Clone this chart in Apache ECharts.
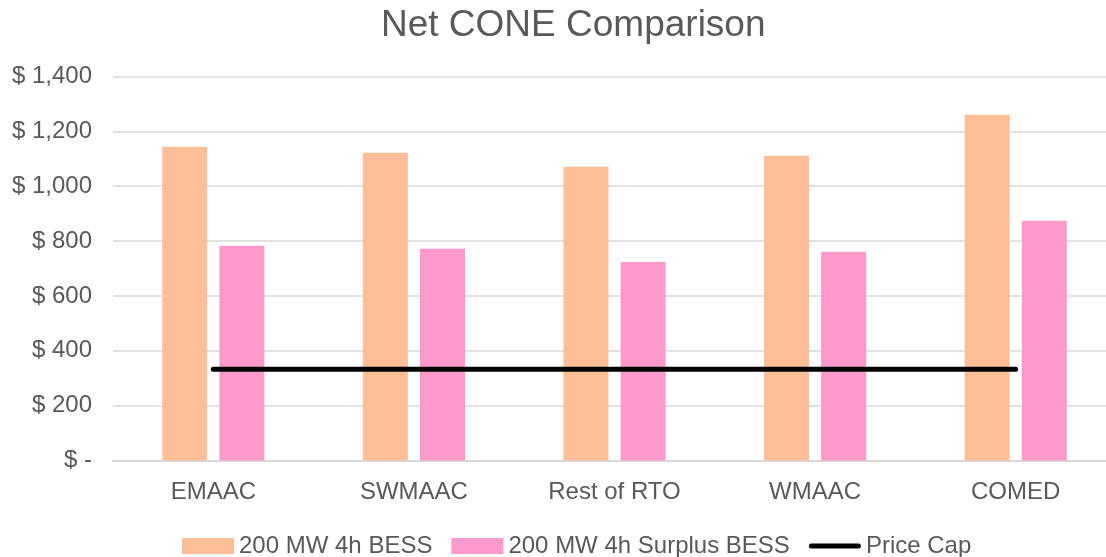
<!DOCTYPE html>
<html>
<head>
<meta charset="utf-8">
<script src="https://cdn.jsdelivr.net/npm/echarts@6/dist/echarts.min.js"></script>
<style>
  html, body { margin: 0; padding: 0; background: #fff; }
  #chart { width: 1106px; height: 557px; }
</style>
</head>
<body>
<div id="chart"></div>
<script>
// categories
var regions = ['EMAAC', 'SWMAAC', 'Rest of RTO', 'WMAAC', 'COMED'];
// series values ($)
var bessValues = [1144, 1122, 1071, 1111, 1261];
var surplusValues = [783, 772, 724, 761, 874];
var priceCap = [333, 333, 333, 333, 333];
// y ticks
var yTicks = [0, 200, 400, 600, 800, 1000, 1200, 1400];

var textColor = '#595959';
var fontFam = '"Liberation Sans", Arial, sans-serif';

function money(v) {
    if (v === 0) return '$ -';
    return '$ ' + v.toLocaleString('en-US');
}

var chart = echarts.init(document.getElementById('chart'));
chart.setOption({
    animation: false,
    color: ['#fdbe98', '#fe99cb', '#000000'],
    title: {
        text: 'Net CONE Comparison',
        left: 376,
        top: 2,
        textStyle: { color: textColor, fontSize: 37, fontWeight: 'normal', fontFamily: fontFam }
    },
    // plot runs past the right edge of the picture (cropped original)
    grid: {
        left: 113, width: 1003, top: 76.5, bottom: 96.5,
        containLabel: false, outerBoundsMode: 'none'
    },
    legend: {
        left: 177,
        top: 529,
        itemWidth: 52,
        itemHeight: 16,
        itemGap: 19,
        textStyle: { color: textColor, fontSize: 24, fontFamily: fontFam },
        data: [
            { name: '200 MW 4h BESS', icon: 'rect' },
            { name: '200 MW 4h Surplus BESS', icon: 'rect' },
            {
                name: 'Price Cap',
                icon: 'path://M2.5,0 L49.5,0 A2.5,2.5 0 0 1 49.5,5 L2.5,5 A2.5,2.5 0 0 1 2.5,0 Z',
                itemStyle: { color: '#000' }
            }
        ]
    },
    xAxis: {
        type: 'category',
        data: regions,
        axisTick: { show: false },
        axisLine: { lineStyle: { color: '#d9d9d9', width: 2 } },
        axisLabel: { color: textColor, fontSize: 24, fontFamily: fontFam, margin: 20 }
    },
    yAxis: {
        type: 'value',
        min: yTicks[0],
        max: yTicks[yTicks.length - 1],
        interval: 200,
        axisLine: { show: false },
        axisTick: { show: false },
        axisLabel: { color: textColor, fontSize: 24, fontFamily: fontFam, margin: 21, formatter: money },
        splitLine: { lineStyle: { color: '#d9d9d9', width: 1.5 } }
    },
    series: [
        {
            name: '200 MW 4h BESS',
            type: 'bar',
            barWidth: 45,
            barGap: '27%',
            data: bessValues
        },
        {
            name: '200 MW 4h Surplus BESS',
            type: 'bar',
            barWidth: 45,
            data: surplusValues
        },
        {
            name: 'Price Cap',
            type: 'line',
            symbol: 'none',
            z: 5,
            lineStyle: { color: '#000', width: 5, cap: 'round' },
            data: priceCap
        }
    ]
});
</script>
</body>
</html>
